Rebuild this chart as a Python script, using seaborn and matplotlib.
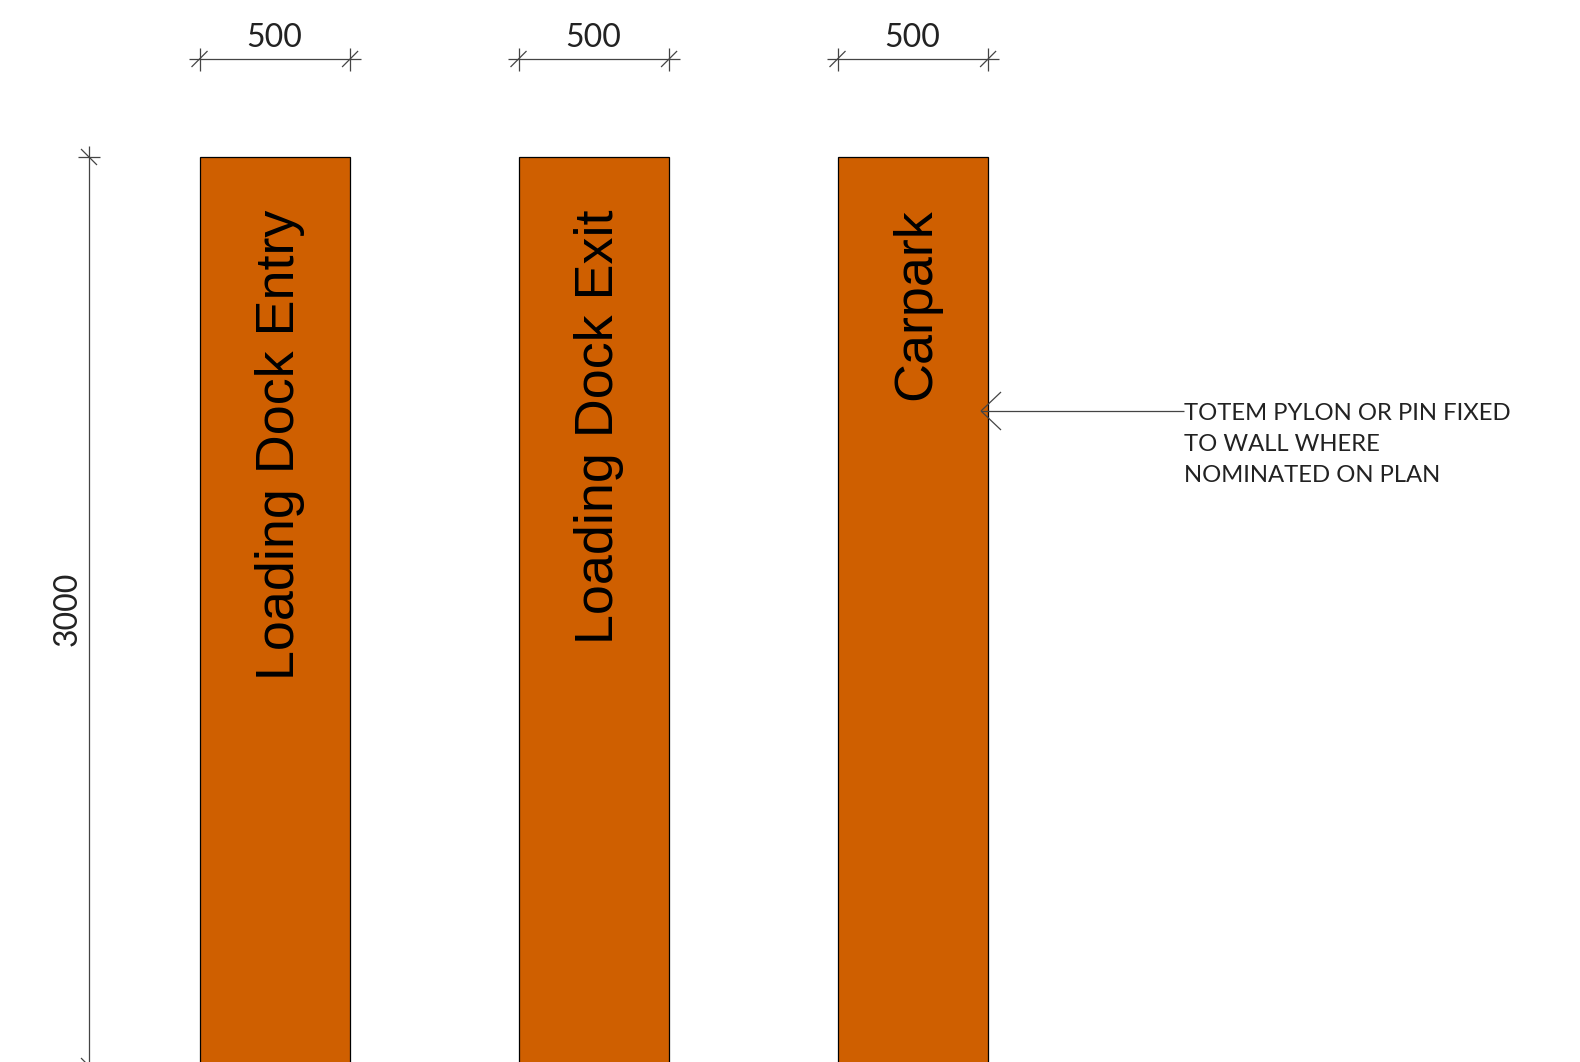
import pandas as pd
import matplotlib.pyplot as plt
import matplotlib.transforms as mtransforms
import seaborn as sns

# sign panels
signs = ['Loading Dock Entry', 'Loading Dock Exit', 'Carpark']
panel_height = [3000, 3000, 3000]
panel_width = [500, 500, 500]
note_lines = ['TOTEM PYLON OR PIN FIXED', 'TO WALL WHERE', 'NOMINATED ON PLAN']

ORANGE = '#CF5F00'
LINE = '#444444'
DIM_FONT = 'Lato'

df = pd.DataFrame({'sign': signs, 'height': panel_height})

sns.set_theme(style='white')
plt.rcParams['font.family'] = ['Liberation Sans', 'DejaVu Sans']

W, H = 1580, 1062
fig = plt.figure(figsize=(W / 100, H / 100), dpi=100)
ax = fig.add_axes([0, 0, 1, 1])

sns.barplot(data=df, x='sign', y='height', color=ORANGE, saturation=1,
            width=0.472, edgecolor='black', linewidth=0.9, ax=ax)

# scale of the drawing: 0.303 px per mm, 319 px between panels
x0_px = 274.8
ax.set_xlim(-x0_px / 319, (W - x0_px) / 319)
ax.set_ylim(3000 - (H - 157) / 0.303, 3000 + 157 / 0.303)
ax.axis('off')

# pixel coordinates, origin top left, for the drafting marks
px = mtransforms.Affine2D().scale(1, -1).translate(0, H)


def to_px(x, y):
    a, b = ax.transData.transform((x, y))
    return a, H - b


def seg(x0, y0, x1, y1, lw=0.9, color=LINE):
    ax.plot([x0, x1], [y0, y1], transform=px, color=color, lw=lw,
            solid_capstyle='butt', clip_on=True)


def tick_h(x, y):
    seg(x, y - 11, x, y + 12)
    seg(x - 8, y + 8, x + 8, y - 8)


def tick_v(x, y):
    seg(x - 11, y, x + 11, y)
    seg(x - 8, y - 8, x + 8, y + 8)


# width dimensions above each panel
dim_y = 59
for bar, w in zip(ax.patches, panel_width):
    left, top = to_px(bar.get_x(), bar.get_height())
    right, _ = to_px(bar.get_x() + bar.get_width(), bar.get_height())
    seg(left - 11, dim_y, right + 11, dim_y)
    tick_h(left, dim_y)
    tick_h(right, dim_y)
    ax.text((left + right) / 2 - 0.5, dim_y - 6, str(w), transform=px, ha='center', va='bottom',
            fontsize=23, family=DIM_FONT, color='#222222')

# height dimension on the left
_, dim_top = to_px(0, panel_height[0])
_, dim_bottom = to_px(0, 0)
dim_x = 89
seg(dim_x, dim_top - 11, dim_x, dim_bottom + 11)
tick_v(dim_x, dim_top)
tick_v(dim_x, dim_bottom)
ax.text(dim_x - 21, (dim_top + dim_bottom) / 2 - 3, str(panel_height[0]), transform=px, rotation=90,
        ha='center', va='center', fontsize=23, family=DIM_FONT, color='#222222')

# sign text, reads upwards and hangs from a common line
for i, name in enumerate(signs):
    x, y = to_px(i, panel_height[i])
    # Carpark has no descender, so its box sits a little differently
    nudge = -1.5 if name == 'Carpark' else 0
    ax.text(x + 5 + nudge, y + 53 + nudge, name, transform=px, rotation=90, ha='center', va='top',
            fontsize=38.8, color='black')

# leader to the third panel
tip_x, tip_y = 981, 411
seg(tip_x, tip_y, 1184, tip_y)
seg(tip_x, tip_y, tip_x + 20, tip_y - 19)
seg(tip_x, tip_y, tip_x + 20, tip_y + 19)
for k, line in enumerate(note_lines):
    ax.text(1184, 414 + k * 30.5, line, transform=px, ha='left', va='center',
            fontsize=17.2, family=DIM_FONT, color='#222222')

fig.savefig('out.png', dpi=100, facecolor='white')
